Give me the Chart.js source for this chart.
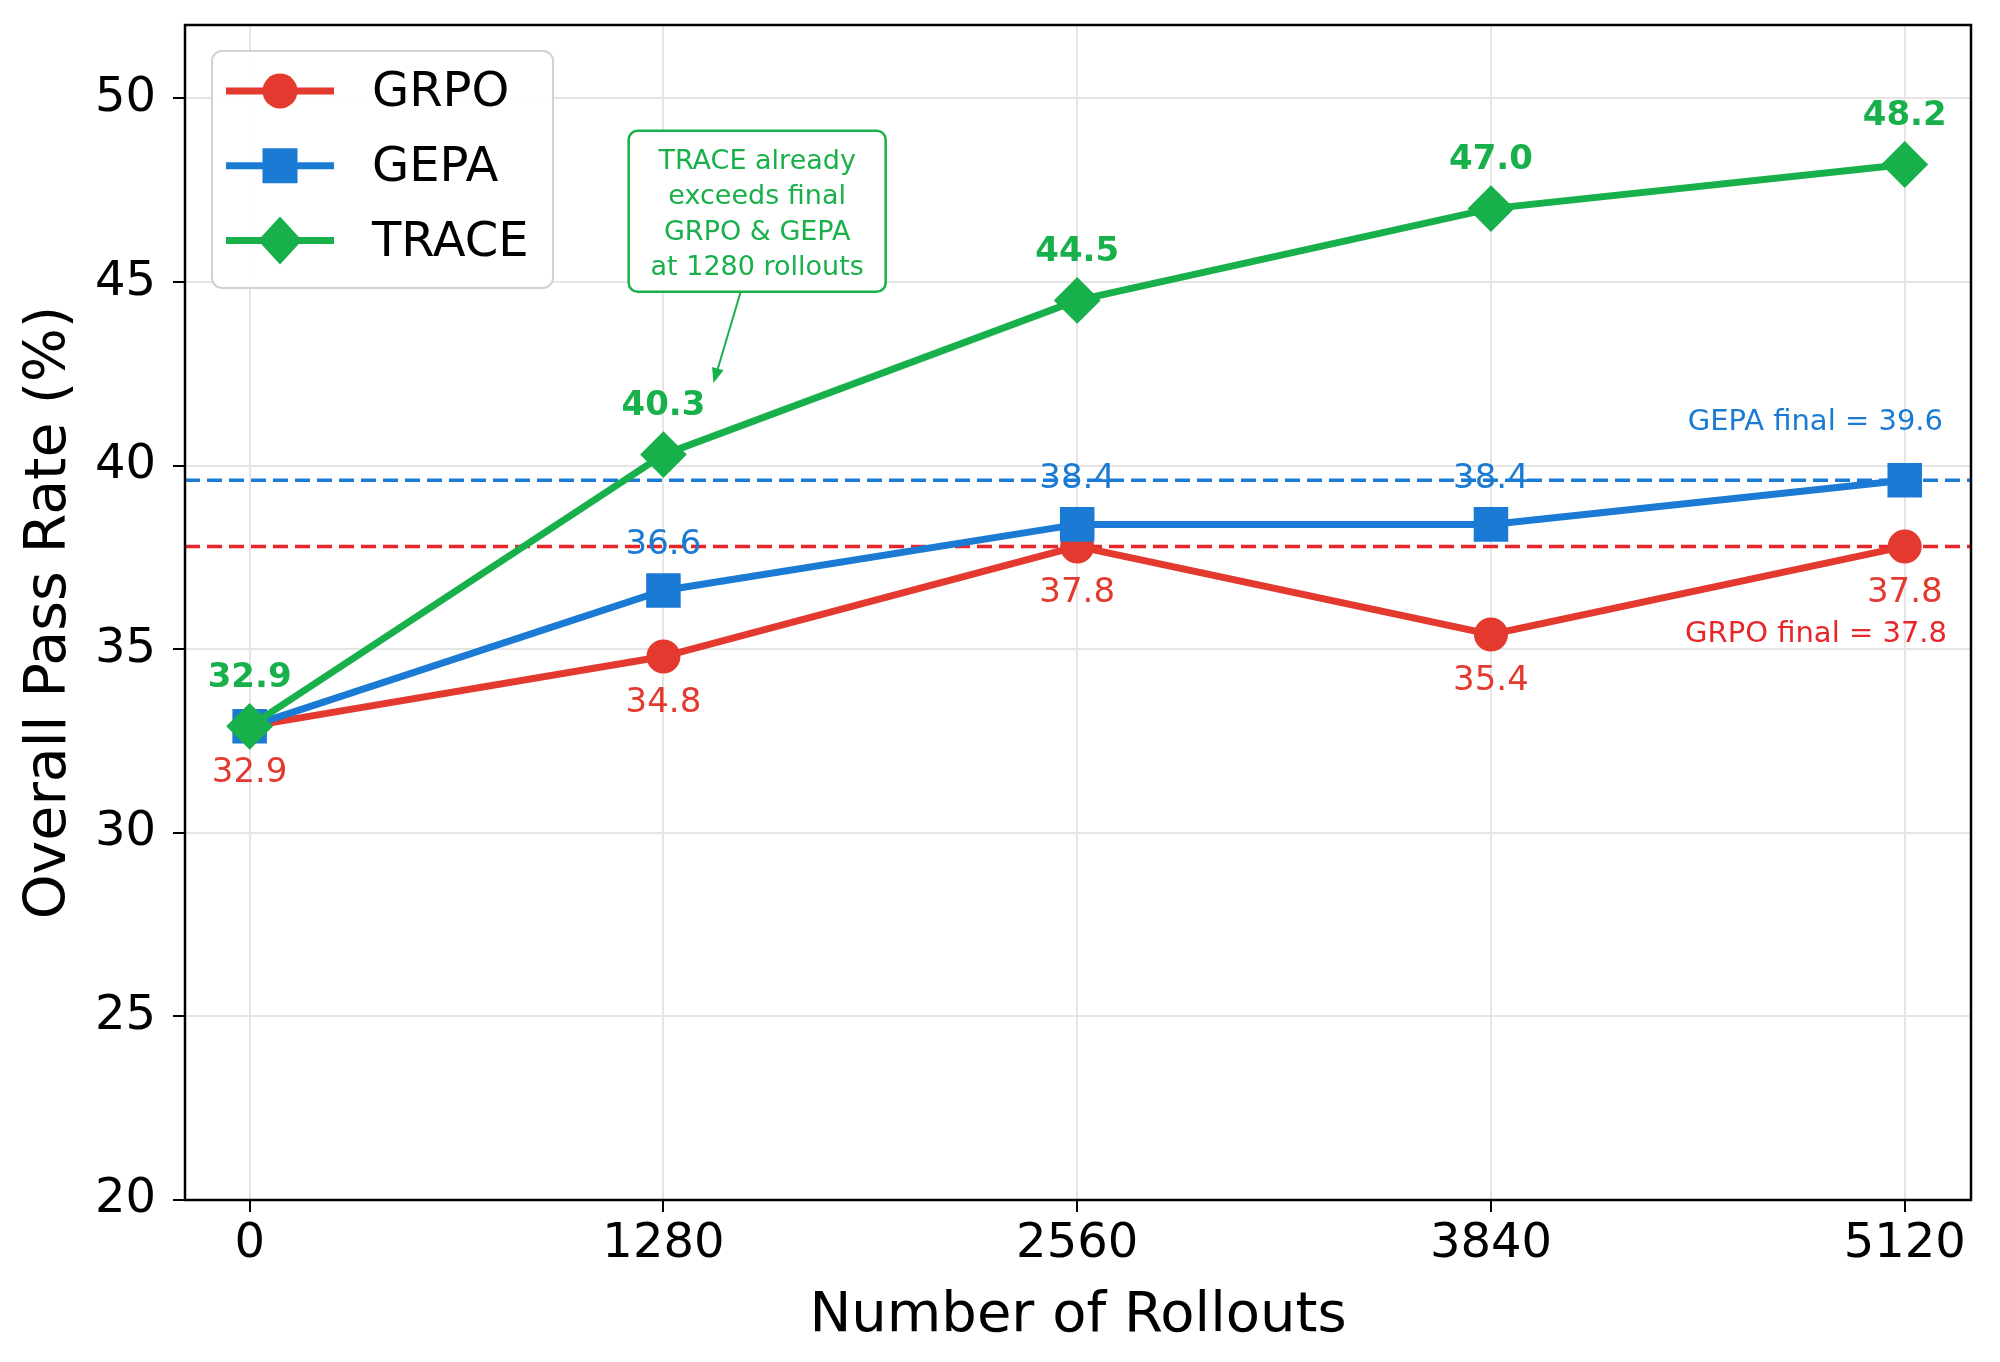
<!DOCTYPE html>
<html>
<head>
<meta charset="utf-8">
<script src="https://cdn.jsdelivr.net/npm/chart.js@4.4.1/dist/chart.umd.min.js"></script>
<style>
  html, body { margin: 0; padding: 0; background: #fff; }
  #wrap { width: 2000px; height: 1362px; }
</style>
</head>
<body>
<div id="wrap"><canvas id="chart" width="2000" height="1362"></canvas></div>
<script>
    // values
    const rollouts = [0, 1280, 2560, 3840, 5120];
    const grpo = [32.9, 34.8, 37.8, 35.4, 37.8];
    const gepa = [32.9, 36.6, 38.4, 38.4, 39.6];
    const trace = [32.9, 40.3, 44.5, 47.0, 48.2];
    const yTicks = [20, 25, 30, 35, 40, 45, 50];
    const xTicks = [0, 1280, 2560, 3840, 5120];
    const grpoFinal = 37.8;
    const gepaFinal = 39.6;
    const noteLines = ["TRACE already", "exceeds final", "GRPO & GEPA", "at 1280 rollouts"];

    const RED = "#e3392f";
    const BLUE = "#1b7bd4";
    const GREEN = "#18b04a";
    const FONT = "'DejaVu Sans', 'Liberation Sans', sans-serif";

    Chart.defaults.font.family = FONT;
    Chart.defaults.color = "#000";

    const toPoints = arr => rollouts.map((x, i) => ({ x: x, y: arr[i] }));

    function drawMarker(ctx, style, x, y, color){
        ctx.save();
        ctx.fillStyle = color;
        ctx.beginPath();
        if(style === "circle"){
            ctx.arc(x, y, 17.5, 0, Math.PI * 2);
        } else if(style === "rect"){
            ctx.rect(x - 17.5, y - 17.5, 35, 35);
        } else {
            ctx.moveTo(x, y - 24);
            ctx.lineTo(x + 22, y);
            ctx.lineTo(x, y + 24);
            ctx.lineTo(x - 22, y);
            ctx.closePath();
        }
        ctx.fill();
        ctx.restore();
    }

    // dashed "final" reference lines, under the series
    const refLines = {
        id: "refLines",
        beforeDatasetsDraw(chart){
            const { ctx, chartArea: a, scales: { y } } = chart;
            ctx.save();
            ctx.lineWidth = 3.5;
            ctx.setLineDash([15, 7]);
            [[gepaFinal, BLUE], [grpoFinal, "#e8262a"]].forEach(([v, c]) => {
                const py = y.getPixelForValue(v);
                ctx.strokeStyle = c;
                ctx.beginPath();
                ctx.moveTo(a.left, py);
                ctx.lineTo(a.right, py);
                ctx.stroke();
            });
            ctx.restore();
        }
    };

    // value labels, final texts and the note box
    const annotations = {
        id: "annotations",
        afterDatasetsDraw(chart){
            const { ctx, chartArea: a, scales: { x, y } } = chart;
            ctx.save();
            ctx.textAlign = "center";
            ctx.textBaseline = "middle";
            chart.data.datasets.forEach((ds, di) => {
                const meta = chart.getDatasetMeta(di);
                ctx.font = (ds.labelBold ? "bold " : "") + "34px " + FONT;
                ctx.fillStyle = ds.borderColor;
                meta.data.forEach((pt, i) => {
                    if(ds.skipLabels.includes(i)) return;
                    ctx.fillText(ds.data[i].y.toFixed(1), pt.x, pt.y + ds.labelOffset + 2);
                });
            });

            // final value captions
            ctx.font = "29px " + FONT;
            ctx.textAlign = "right";
            ctx.textBaseline = "alphabetic";
            ctx.fillStyle = BLUE;
            ctx.fillText("GEPA final = " + gepaFinal.toFixed(1), a.right - 28, y.getPixelForValue(gepaFinal) - 50);
            ctx.fillStyle = "#e8262a";
            ctx.fillText("GRPO final = " + grpoFinal.toFixed(1), a.right - 24, y.getPixelForValue(grpoFinal) + 96);

            // note box with arrow
            const cx = x.getPixelForValue(1570);
            const cy = y.getPixelForValue(46.93);
            const w = 257, h = 161;
            const bx = cx - w / 2, by = cy - h / 2;
            ctx.fillStyle = "#fff";
            ctx.strokeStyle = GREEN;
            ctx.lineWidth = 2.5;
            ctx.beginPath();
            ctx.roundRect(bx, by, w, h, 9);
            ctx.fill();
            ctx.stroke();
            ctx.fillStyle = GREEN;
            ctx.font = "27px " + FONT;
            ctx.textAlign = "center";
            noteLines.forEach((t, i) => {
                ctx.fillText(t, cx, cy - 42 + i * 35.3);
            });

            const sx = x.getPixelForValue(1519), sy = by + h;
            const tx = x.getPixelForValue(1435), ty = y.getPixelForValue(42.25);
            const ang = Math.atan2(ty - sy, tx - sx);
            ctx.lineWidth = 2;
            ctx.beginPath();
            ctx.moveTo(sx, sy);
            ctx.lineTo(tx - Math.cos(ang) * 10, ty - Math.sin(ang) * 10);
            ctx.stroke();
            ctx.beginPath();
            ctx.moveTo(tx, ty);
            ctx.lineTo(tx - Math.cos(ang) * 15 + Math.sin(ang) * 6, ty - Math.sin(ang) * 15 - Math.cos(ang) * 6);
            ctx.lineTo(tx - Math.cos(ang) * 15 - Math.sin(ang) * 6, ty - Math.sin(ang) * 15 + Math.cos(ang) * 6);
            ctx.closePath();
            ctx.fill();
            ctx.restore();
        }
    };

    // frame and legend on top
    const frameLegend = {
        id: "frameLegend",
        afterDraw(chart){
            const { ctx, chartArea: a } = chart;
            ctx.save();
            ctx.strokeStyle = "#000";
            ctx.lineWidth = 2.5;
            ctx.strokeRect(a.left, a.top, a.right - a.left, a.bottom - a.top);

            const lx = a.left + 27, ly = a.top + 26;
            ctx.fillStyle = "rgba(255,255,255,0.9)";
            ctx.strokeStyle = "#d2d2d2";
            ctx.lineWidth = 2;
            ctx.beginPath();
            ctx.roundRect(lx, ly, 341, 237, 10);
            ctx.fill();
            ctx.stroke();

            chart.data.datasets.forEach((ds, i) => {
                const ry = ly + 40 + i * 74.7;
                ctx.strokeStyle = ds.borderColor;
                ctx.lineWidth = 7;
                ctx.beginPath();
                ctx.moveTo(lx + 14, ry);
                ctx.lineTo(lx + 122, ry);
                ctx.stroke();
                drawMarker(ctx, ds.pointStyle, lx + 68, ry, ds.borderColor);
                ctx.fillStyle = "#000";
                ctx.font = "48px " + FONT;
                ctx.textAlign = "left";
                ctx.textBaseline = "middle";
                ctx.fillText(ds.label, lx + 160, ry + 3);
            });
            ctx.restore();
        }
    };

    const gridOpts = { color: "#e5e5e5", lineWidth: 2, tickColor: "#000", tickWidth: 2, tickLength: 12 };

    new Chart(document.getElementById("chart"), {
        type: "line",
        data: {
            datasets: [
                {
                    label: "GRPO",
                    data: toPoints(grpo),
                    borderColor: RED,
                    backgroundColor: RED,
                    borderWidth: 7,
                    pointStyle: "circle",
                    pointRadius: 16,
                    pointBorderWidth: 2,
                    pointBackgroundColor: RED,
                    pointBorderColor: RED,
                    order: 2,
                    labelOffset: 45,
                    labelBold: false,
                    skipLabels: []
                },
                {
                    label: "GEPA",
                    data: toPoints(gepa),
                    borderColor: BLUE,
                    backgroundColor: BLUE,
                    borderWidth: 7,
                    pointStyle: "rect",
                    pointRadius: 23,
                    pointBorderWidth: 2,
                    pointBackgroundColor: BLUE,
                    pointBorderColor: BLUE,
                    order: 1,
                    labelOffset: -47,
                    labelBold: false,
                    skipLabels: [0, 4]
                },
                {
                    label: "TRACE",
                    data: toPoints(trace),
                    borderColor: GREEN,
                    backgroundColor: GREEN,
                    borderWidth: 7,
                    pointStyle: "rectRot",
                    pointRadius: 22,
                    pointBorderWidth: 2,
                    pointBackgroundColor: GREEN,
                    pointBorderColor: GREEN,
                    order: 0,
                    labelOffset: -50,
                    labelBold: true,
                    skipLabels: []
                }
            ]
        },
        options: {
            responsive: false,
            devicePixelRatio: 1,
            animation: false,
            events: [],
            layout: { padding: { top: 24, right: 29, left: 0, bottom: 0 } },
            plugins: {
                legend: { display: false },
                tooltip: { enabled: false }
            },
            scales: {
                x: {
                    type: "linear",
                    min: -200,
                    max: 5325,
                    afterBuildTicks: s => { s.ticks = xTicks.map(v => ({ value: v })); },
                    afterFit: s => { s.height = 162; s.paddingLeft = 0; s.paddingRight = 0; },
                    ticks: { font: { size: 48 }, color: "#000", padding: 4, maxRotation: 0, autoSkip: false, callback: v => String(v) },
                    grid: gridOpts,
                    border: { display: false },
                    title: { display: true, text: "Number of Rollouts", font: { size: 56 }, color: "#000", padding: { top: 0, bottom: 12 } }
                },
                y: {
                    type: "linear",
                    min: 20,
                    max: 52,
                    afterBuildTicks: s => { s.ticks = yTicks.map(v => ({ value: v })); },
                    afterFit: s => { s.width = 185; s.paddingTop = 0; s.paddingBottom = 0; },
                    ticks: { font: { size: 48 }, color: "#000", padding: 17, callback: v => String(v) },
                    grid: gridOpts,
                    border: { display: false },
                    title: { display: true, text: "Overall Pass Rate (%)", font: { size: 57 }, color: "#000", padding: { top: 16, bottom: 0 } }
                }
            }
        },
        plugins: [refLines, annotations, frameLegend]
    });
</script>
</body>
</html>
